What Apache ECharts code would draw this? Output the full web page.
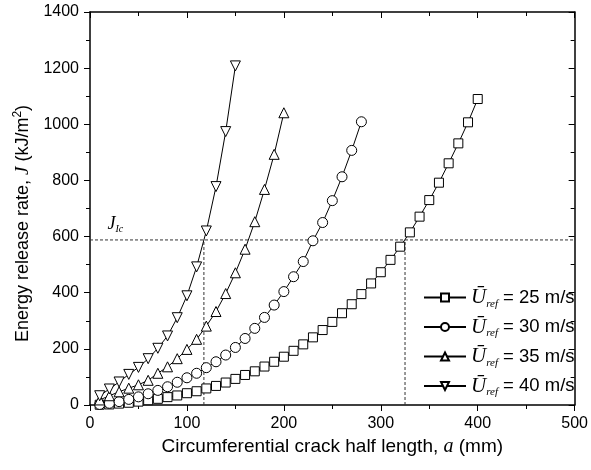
<!DOCTYPE html>
<html>
<head>
<meta charset="utf-8">
<script src="https://cdn.jsdelivr.net/npm/echarts@6/dist/echarts.min.js"></script>
<style>
  html, body { margin: 0; padding: 0; background: #fff; }
  #chart { width: 591px; height: 470px; }
</style>
</head>
<body>
<div id="chart"></div>
<script>
// crack half length a (mm), shared by all series
const crackLength = [10, 20, 30, 40, 50, 60, 70, 80, 90, 100,
  110, 120, 130, 140, 150, 160, 170, 180, 190, 200,
  210, 220, 230, 240, 250, 260, 270, 280, 290, 300,
  310, 320, 330, 340, 350, 360, 370, 380, 390, 400]

// energy release rate J (kJ/m2)
const j25 = [1, 2, 5, 8, 12, 17, 22, 28, 34, 42,
  49, 59, 68, 80, 93, 107, 120, 137, 154, 172,
  193, 216, 241, 267, 296, 327, 359, 395, 433, 473,
  517, 564, 615, 671, 730, 792, 861, 932, 1007, 1090]
const j30 = [2, 6, 12, 20, 29, 40, 52, 65, 81, 97,
  113, 133, 154, 178, 205, 237, 273, 312, 356, 404,
  457, 511, 585, 650, 728, 813, 907, 1009]
const j35 = [18, 33, 47, 60, 72, 88, 113, 136, 165, 198,
  234, 281, 333, 397, 471, 555, 653, 768, 893, 1041]
const j40 = [33, 57, 82, 109, 134, 165, 202, 246, 311, 389,
  492, 620, 778, 974, 1208]

const speeds = ['25', '30', '35', '40']
const symbols = ['rect', 'circle', 'triangle', 'path://M0,0 L10,0 L5,9 Z']
const jIc = 588
const criticalLength = [117.5, 325]

function pairs(values) {
  return values.map((v, i) => [crackLength[i], v])
}

const chart = echarts.init(document.getElementById('chart'))

const dash = { color: '#333', width: 1, type: [3, 2] }

const dataSeries = [j25, j30, j35, j40].map((vals, idx) => ({
  name: speeds[idx],
  type: 'line',
  data: pairs(vals),
  symbol: symbols[idx],
  symbolSize: idx === 0 ? 9 : 10,
  showAllSymbol: true,
  lineStyle: { color: '#000', width: 1 },
  itemStyle: { color: '#fff', borderColor: '#000', borderWidth: 1 },
  z: 3
}))

const refSeries = [
  {
    type: 'line', silent: true, symbol: 'none', z: 2,
    data: [[0, jIc], [500, jIc]], lineStyle: dash,
    markPoint: {
      silent: true,
      symbol: 'circle', symbolSize: 0,
      data: [{ coord: [18, 645] }],
      label: {
        show: true, position: 'right', distance: 0,
        formatter: '{j|J}{s|Ic}',
        rich: {
          j: { fontFamily: 'Liberation Serif', fontStyle: 'italic', fontSize: 18, color: '#000', lineHeight: 20 },
          s: { fontFamily: 'Liberation Serif', fontStyle: 'italic', fontSize: 10, color: '#000', lineHeight: 10, verticalAlign: 'bottom' }
        }
      }
    }
  },
  ...criticalLength.map(a => ({
    type: 'line', silent: true, symbol: 'none', z: 2,
    data: [[a, 0], [a, jIc]], lineStyle: dash
  }))
]

const tickStyle = { color: '#000', width: 1 }
const frameLine = { show: true, onZero: false, lineStyle: { color: '#000', width: 1.5 } }

chart.setOption({
  animation: false,
  backgroundColor: '#fff',
  grid: { left: 90, right: 12, top: 12, bottom: 65 },
  legend: {
    data: speeds,
    orient: 'vertical',
    left: 418,
    top: 282,
    itemWidth: 42,
    itemHeight: 10,
    itemGap: 7,
    formatter: name => `{u|Ū}{r|ref}{t| = ${name} m/s}`,
    textStyle: {
      rich: {
        u: { fontFamily: 'Liberation Serif', fontStyle: 'italic', fontSize: 21, color: '#000', lineHeight: 24 },
        r: { fontFamily: 'Liberation Serif', fontStyle: 'italic', fontSize: 11, color: '#000', lineHeight: 12, verticalAlign: 'bottom' },
        t: { fontFamily: 'Liberation Sans', fontSize: 18.5, color: '#000', lineHeight: 24 }
      }
    }
  },
  xAxis: [
    {
      type: 'value', min: 0, max: 500, interval: 100,
      name: '{t|Circumferential crack half length, }{i|a}{t| (mm)}',
      nameLocation: 'middle', nameGap: 29,
      nameTextStyle: {
        rich: {
          t: { fontFamily: 'Liberation Sans', fontSize: 19, color: '#000' },
          i: { fontFamily: 'Liberation Serif', fontStyle: 'italic', fontSize: 20, color: '#000' }
        }
      },
      axisLine: frameLine,
      axisTick: { show: true, length: 6, lineStyle: tickStyle },
      minorTick: { show: true, splitNumber: 2, length: 4, lineStyle: tickStyle },
      axisLabel: { fontFamily: 'Liberation Sans', fontSize: 16, color: '#000', margin: 11 },
      splitLine: { show: false }
    },
    {
      type: 'value', min: 0, max: 500, interval: 100, position: 'top',
      axisLine: frameLine,
      axisTick: { show: true, inside: true, length: 6, lineStyle: tickStyle },
      minorTick: { show: true, splitNumber: 2, length: 4, lineStyle: tickStyle },
      axisLabel: { show: false },
      splitLine: { show: false }
    }
  ],
  yAxis: [
    {
      type: 'value', min: 0, max: 1400, interval: 200,
      name: '{t|Energy release rate, }{i|J}{t| (kJ/m}{p|2}{t|)}',
      nameLocation: 'middle', nameGap: 56,
      nameTextStyle: {
        padding: [0, 30, 0, 0],
        rich: {
          t: { fontFamily: 'Liberation Sans', fontSize: 18, color: '#000', lineHeight: 22 },
          i: { fontFamily: 'Liberation Serif', fontStyle: 'italic', fontSize: 19, color: '#000', lineHeight: 22 },
          p: { fontFamily: 'Liberation Sans', fontSize: 12, color: '#000', lineHeight: 12, verticalAlign: 'top' }
        }
      },
      axisLine: frameLine,
      axisTick: { show: true, length: 6, lineStyle: tickStyle },
      minorTick: { show: true, splitNumber: 2, length: 4, lineStyle: tickStyle },
      axisLabel: { fontFamily: 'Liberation Sans', fontSize: 16, color: '#000', margin: 11, formatter: v => String(v) },
      splitLine: { show: false }
    },
    {
      type: 'value', min: 0, max: 1400, interval: 200, position: 'right',
      axisLine: frameLine,
      axisTick: { show: true, inside: true, length: 6, lineStyle: tickStyle },
      minorTick: { show: true, splitNumber: 2, length: 4, lineStyle: tickStyle },
      axisLabel: { show: false },
      splitLine: { show: false }
    }
  ],
  series: [...refSeries, ...dataSeries]
})
</script>
</body>
</html>
